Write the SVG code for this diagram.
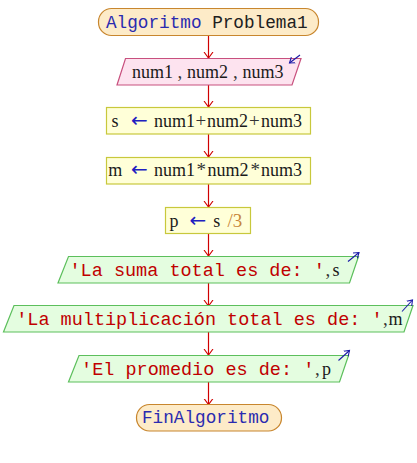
<svg xmlns="http://www.w3.org/2000/svg" width="417" height="463" viewBox="0 0 417 463">
  <defs>
    <style>
      .term { fill: #fdebc8; stroke: #c8862e; stroke-width: 1.2; }
      .inp { fill: #fde3ef; stroke: #c8507e; stroke-width: 1.2; }
      .proc { fill: #ffffd8; stroke: #c8c83c; stroke-width: 1.2; }
      .outp { fill: #e4fde0; stroke: #5cbf5c; stroke-width: 1.2; }
      .kw { font-family: "Liberation Mono", "Courier New", monospace; font-size: 17.7px; fill: #2a2ab0; }
      .str { font-family: "Liberation Mono", "Courier New", monospace; font-size: 18.5px; fill: #c00000; }
      .var { font-family: "Liberation Serif", "Times New Roman", serif; font-size: 18px; fill: #1a1a1a; }
      .op { font-family: "Liberation Serif", "Times New Roman", serif; font-size: 19px; fill: #333333; }
      .num { font-family: "Liberation Serif", "Times New Roman", serif; font-size: 19px; fill: #c8873a; }
      .asg { font-family: "DejaVu Sans", sans-serif; font-size: 20px; fill: #2020c0; }
      .flow { stroke: #d00000; stroke-width: 1.2; fill: none; marker-end: url(#head); }
      .io { stroke: #1a1aa8; stroke-width: 1.1; fill: none; marker-end: url(#ioHead); }
    </style>
    <marker id="head" markerUnits="userSpaceOnUse" markerWidth="12" markerHeight="12" refX="6" refY="6" orient="auto">
      <path d="M0,1.5 L6,6 L0,10.5" fill="none" stroke="#d00000" stroke-width="1.1"/>
    </marker>
    <marker id="ioHead" markerUnits="userSpaceOnUse" markerWidth="10" markerHeight="10" refX="5" refY="5" orient="auto">
      <path d="M0,1.5 L5,5 L0,8.5" fill="none" stroke="#1a1aa8" stroke-width="1.1"/>
    </marker>
  </defs>

  <!-- connectors -->
  <g id="connectors">
    <line class="flow" x1="208.5" y1="35" x2="208.5" y2="58"/>
    <line class="flow" x1="208.5" y1="85" x2="208.5" y2="107"/>
    <line class="flow" x1="208.5" y1="134" x2="208.5" y2="157"/>
    <line class="flow" x1="208.5" y1="184" x2="208.5" y2="207"/>
    <line class="flow" x1="208.5" y1="233" x2="208.5" y2="256"/>
    <line class="flow" x1="208.5" y1="283" x2="208.5" y2="306"/>
    <line class="flow" x1="208.5" y1="332" x2="208.5" y2="355"/>
    <line class="flow" x1="208.5" y1="382" x2="208.5" y2="404.5"/>
  </g>

  <!-- start -->
  <g id="start">
    <rect class="term" x="98.5" y="8.5" width="220" height="27" rx="13" ry="13"/>
    <text class="kw" x="106" y="27.5">Algoritmo<tspan fill="#202020"> Problema1</tspan></text>
  </g>

  <!-- read num1,num2,num3 -->
  <g id="read">
    <polygon class="inp" points="125.5,58.5 301,58.5 292,85 117,85"/>
    <line class="io" x1="300" y1="55" x2="289.5" y2="63"/>
    <text y="78"><tspan class="var" x="132">num1</tspan><tspan class="op" x="177.5">,</tspan><tspan class="var" x="187">num2</tspan><tspan class="op" x="233">,</tspan><tspan class="var" x="242.5">num3</tspan></text>
  </g>

  <!-- s <- num1+num2+num3 -->
  <g id="sum">
    <rect class="proc" x="106.5" y="107.5" width="204" height="26.5"/>
    <text y="126.5"><tspan class="var" x="111.5">s</tspan><tspan class="asg" x="131">←</tspan><tspan class="var" x="154">num1</tspan><tspan class="op" x="195.5">+</tspan><tspan class="var" x="207">num2</tspan><tspan class="op" x="249">+</tspan><tspan class="var" x="261">num3</tspan></text>
  </g>

  <!-- m <- num1*num2*num3 -->
  <g id="product">
    <rect class="proc" x="106.5" y="157.5" width="204" height="26.5"/>
    <text y="176"><tspan class="var" x="108.3">m</tspan><tspan class="asg" x="131">←</tspan><tspan class="var" x="154">num1</tspan><tspan class="op" x="196.5">*</tspan><tspan class="var" x="207.5">num2</tspan><tspan class="op" x="250.5">*</tspan><tspan class="var" x="261">num3</tspan></text>
  </g>

  <!-- p <- s/3 -->
  <g id="average">
    <rect class="proc" x="165.5" y="207.5" width="85" height="26"/>
    <text y="226.7"><tspan class="var" x="169.5">p</tspan><tspan class="asg" x="189.6">←</tspan><tspan class="var" x="213.3">s</tspan><tspan class="num" x="227.5">/3</tspan></text>
  </g>

  <!-- write sum -->
  <g id="writeSum">
    <polygon class="outp" points="68.5,256.5 358.5,256.5 349.5,283 58,283"/>
    <line class="io" x1="348" y1="261.5" x2="359" y2="252.5"/>
    <text y="275.5"><tspan class="str" x="69.5">'La suma total es de: '</tspan><tspan class="op" x="325.5" fill="#1a1a1a">,</tspan><tspan class="var" x="332.5">s</tspan></text>
  </g>

  <!-- write product -->
  <g id="writeProduct">
    <polygon class="outp" points="14,305.5 413,305.5 404,332 3.5,332"/>
    <line class="io" x1="402" y1="311.5" x2="412.5" y2="300"/>
    <text y="325"><tspan class="str" x="16.2">'La multiplicación total es de: '</tspan><tspan class="op" x="383" fill="#1a1a1a">,</tspan><tspan class="var" x="388.5">m</tspan></text>
  </g>

  <!-- write average -->
  <g id="writeAverage">
    <polygon class="outp" points="79,355.5 348.5,355.5 339.5,382 68.5,382"/>
    <line class="io" x1="338.5" y1="360.5" x2="349.5" y2="350.5"/>
    <text y="374.5"><tspan class="str" x="81.1">'El promedio es de: '</tspan><tspan class="op" x="315" fill="#1a1a1a">,</tspan><tspan class="var" x="322">p</tspan></text>
  </g>

  <!-- end -->
  <g id="end">
    <rect class="term" x="136.5" y="404.5" width="145" height="26.5" rx="13" ry="13"/>
    <text class="kw" x="142" y="423.3">FinAlgoritmo</text>
  </g>
</svg>
